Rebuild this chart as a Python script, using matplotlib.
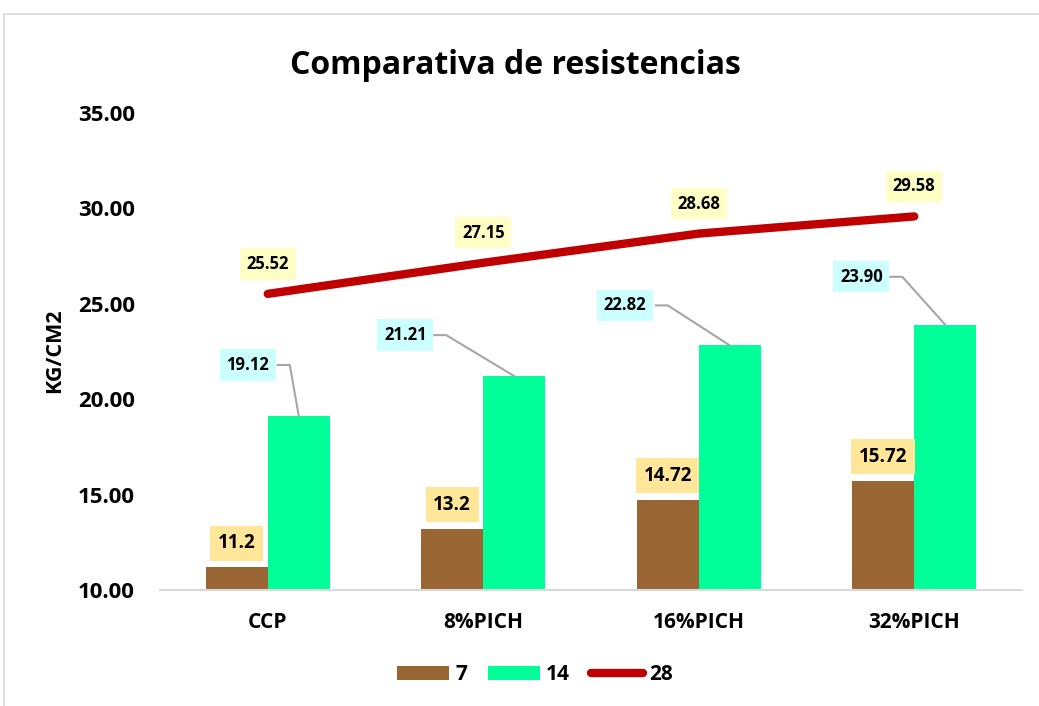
import matplotlib
matplotlib.use('Agg')
import matplotlib.pyplot as plt
import numpy as np
from matplotlib.lines import Line2D
from matplotlib.patches import Patch, Rectangle
from matplotlib.transforms import IdentityTransform

categories = ['CCP', '8%PICH', '16%PICH', '32%PICH']
dias_7 = [11.2, 13.2, 14.72, 15.72]
dias_14 = [19.12, 21.21, 22.82, 23.90]
dias_28 = [25.52, 27.15, 28.68, 29.58]
labels_7 = ['11.2', '13.2', '14.72', '15.72']
labels_14 = ['19.12', '21.21', '22.82', '23.90']
labels_28 = ['25.52', '27.15', '28.68', '29.58']
y_ticks = [10, 15, 20, 25, 30, 35]

# label offsets in pixels (x right, y up) from the mark
off_14 = [(-51, 51), (-109, 41), (-105, 40), (-84, 48)]
knee_14 = [(-9, 51), (-68, 41), (-62, 40), (-43, 48)]

BROWN = '#996633'
GREEN = '#00FF99'
RED = '#C00000'
FONT = ['Open Sans', 'DejaVu Sans']

plt.rcParams['font.family'] = FONT
plt.rcParams['font.weight'] = 'bold'

fig = plt.figure(figsize=(10.39, 7.06), dpi=100)
fig.patches.append(Rectangle((4 / 1039, -0.1), 1.2, 1.1 - 14 / 706, transform=fig.transFigure,
                             fill=False, edgecolor='#D9D9D9', linewidth=1.2))
ax = fig.add_axes([160 / 1039, 1 - 590 / 706, 862 / 1039, 477 / 706])

x = np.arange(len(categories))
w = 0.288
ax.bar(x - w / 2, [v - 10 for v in dias_7], w, bottom=10, color=BROWN, zorder=2)
ax.bar(x + w / 2, [v - 10 for v in dias_14], w, bottom=10, color=GREEN, zorder=2)
ax.plot(x, dias_28, color=RED, linewidth=6, solid_capstyle='round', zorder=3)

ax.set_xlim(-0.5, len(categories) - 0.5)
ax.set_ylim(10, 35)
ax.set_yticks(y_ticks)
ax.set_yticklabels([f'{t:.2f}' for t in y_ticks], fontsize=16, fontweight='bold')
ax.set_xticks(x)
ax.set_xticklabels(categories, fontsize=15, fontweight='bold')
ax.tick_params(length=0)
ax.tick_params(axis='y', pad=18)
ax.tick_params(axis='x', pad=16)
for s in ['top', 'right', 'left']:
    ax.spines[s].set_visible(False)
ax.spines['bottom'].set_color('#D9D9D9')
ax.spines['bottom'].set_linewidth(1.5)

fig.text(515 / 1039, 1 - 65 / 706, 'Comparativa de resistencias', ha='center', va='center',
         fontsize=23, fontweight='bold')
fig.text(55 / 1039, 1 - 351 / 706, 'KG/CM2', rotation=90, ha='center', va='center',
         fontsize=15.5, fontweight='bold')

box = dict(boxstyle='square,pad=0.4', edgecolor='none')

for i, v in enumerate(dias_7):
    ax.annotate(labels_7[i], (x[i] - w / 2, v), xytext=(0, 24), textcoords='offset pixels',
                ha='center', va='center', fontsize=13.5, fontweight='bold',
                bbox=dict(box, facecolor='#FFE699'), zorder=5)

for i, v in enumerate(dias_28):
    ax.annotate(labels_28[i], (x[i], v), xytext=(0, 30), textcoords='offset pixels',
                ha='center', va='center', fontsize=12, fontweight='bold',
                bbox=dict(box, facecolor='#FFFFC5'), zorder=5)

for i, v in enumerate(dias_14):
    ax.annotate(labels_14[i], (x[i] + w / 2, v), xytext=off_14[i], textcoords='offset pixels',
                ha='center', va='center', fontsize=12, fontweight='bold',
                bbox=dict(box, facecolor='#CCFFFF'), zorder=5)
    px, py = ax.transData.transform((x[i] + w / 2, v))
    kx, ky = px + knee_14[i][0], py + knee_14[i][1]
    fig.add_artist(Line2D([kx - 12, kx, px], [ky, ky, py], transform=IdentityTransform(),
                          color='#A6A6A6', linewidth=1.5, zorder=4))

handles = [Patch(facecolor=BROWN), Patch(facecolor=GREEN),
           Line2D([0], [0], color=RED, linewidth=6, solid_capstyle='round')]
fig.legend(handles, ['7', '14', '28'], loc='center', bbox_to_anchor=(535 / 1039, 1 - 675 / 706),
           ncol=3, frameon=False, prop={'family': FONT, 'weight': 'bold', 'size': 15},
           handlelength=2.5, handleheight=0.67, handletextpad=0.3, columnspacing=1.0)

fig.savefig('out.png', dpi=100)
